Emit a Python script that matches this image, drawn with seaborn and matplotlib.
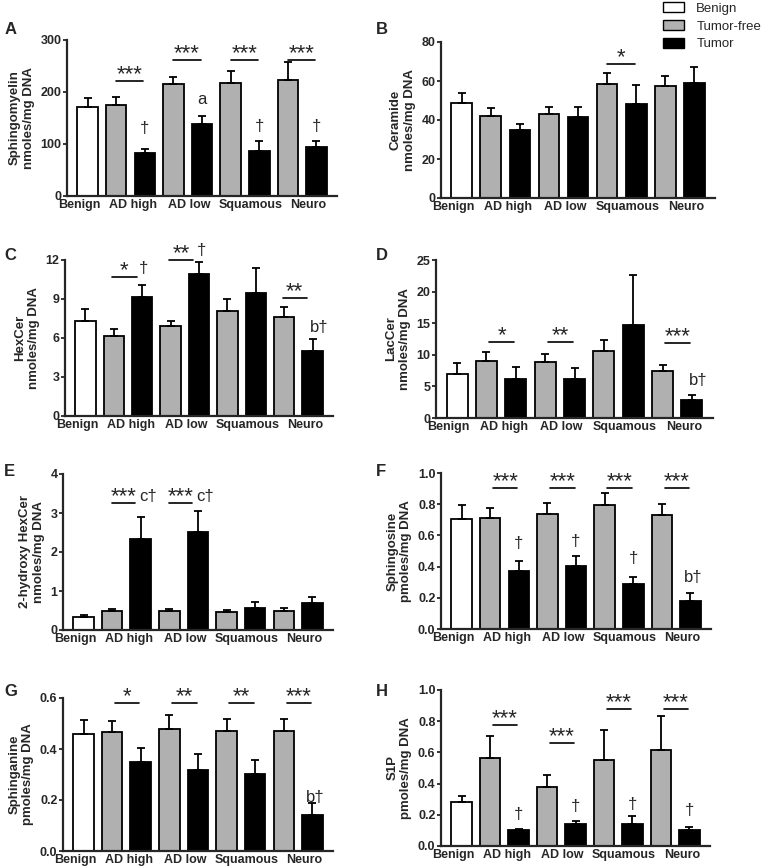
import numpy as np
import pandas as pd
import matplotlib
matplotlib.use("Agg")
import matplotlib.pyplot as plt
import seaborn as sns
from matplotlib.patches import Patch
from matplotlib.ticker import FormatStrFormatter

sns.set_theme(style="ticks")
plt.rcParams['font.family'] = ['Liberation Sans', 'DejaVu Sans']

# bar groups in plotting order
groups = ['Benign', 'Tumor-free', 'Tumor', 'Tumor-free', 'Tumor',
          'Tumor-free', 'Tumor', 'Tumor-free', 'Tumor']
categories = ['Benign', 'AD high', 'AD low', 'Squamous', 'Neuro']
colors = {'Benign': 'white', 'Tumor-free': '#b0b0b0', 'Tumor': 'black'}

# A - Sphingomyelin
sm_mean = [172, 175, 83, 215, 138, 218, 86, 223, 95]
sm_err = [16, 16, 8, 14, 16, 22, 19, 35, 10]
# B - Ceramide
cer_mean = [48.9, 42.0, 34.9, 43.2, 41.7, 58.3, 48.4, 57.3, 59.0]
cer_err = [4.8, 4.3, 3.2, 3.4, 5.0, 5.8, 9.4, 5.1, 8.4]
# C - HexCer
hex_mean = [7.33, 6.18, 9.14, 6.94, 10.9, 8.07, 9.45, 7.58, 5.03]
hex_err = [0.9, 0.55, 0.95, 0.4, 0.97, 0.9, 1.9, 0.8, 0.87]
# D - LacCer
lac_mean = [6.99, 9.0, 6.25, 8.8, 6.2, 10.6, 14.7, 7.36, 2.8]
lac_err = [1.75, 1.5, 1.8, 1.3, 1.75, 1.8, 8.0, 1.1, 0.85]
# E - 2-hydroxy HexCer
ohex_mean = [0.34, 0.48, 2.33, 0.50, 2.52, 0.45, 0.56, 0.48, 0.68]
ohex_err = [0.04, 0.07, 0.58, 0.04, 0.53, 0.07, 0.15, 0.09, 0.16]
# F - Sphingosine
so_mean = [0.705, 0.713, 0.373, 0.739, 0.405, 0.794, 0.289, 0.728, 0.178]
so_err = [0.087, 0.064, 0.06, 0.068, 0.062, 0.075, 0.047, 0.073, 0.055]
# G - Sphinganine
sa_mean = [0.459, 0.467, 0.348, 0.479, 0.318, 0.472, 0.301, 0.470, 0.141]
sa_err = [0.056, 0.044, 0.054, 0.053, 0.062, 0.045, 0.054, 0.048, 0.047]
# H - S1P
s1p_mean = [0.28, 0.563, 0.10, 0.377, 0.143, 0.55, 0.143, 0.617, 0.10]
s1p_err = [0.041, 0.139, 0.011, 0.075, 0.02, 0.195, 0.052, 0.218, 0.024]

# significance bars: (gray bar index, line y, label)
sm_sig = [(1, 221, '***'), (3, 261, '***'), (5, 261, '***'), (7, 261, '***')]
sm_marks = [(2, 130, '†'), (4, 185, 'a'), (6, 134, '†'), (8, 134, '†')]
cer_sig = [(5, 68.9, '*')]
cer_marks = []
hex_sig = [(1, 10.67, '*'), (3, 12.0, '**'), (7, 9.09, '**')]
hex_marks = [(2.05, 11.35, '†'), (4.1, 12.75, '†'), (8.25, 6.84, 'b†')]
lac_sig = [(1, 11.97, '*'), (3, 11.97, '**'), (7, 11.86, '***')]
lac_marks = [(8.2, 6.0, 'b†')]
ohex_sig = [(1, 3.26, '***'), (3, 3.26, '***')]
ohex_marks = [(2.25, 3.42, 'c†'), (4.25, 3.42, 'c†')]
so_sig = [(1, 0.904, '***'), (3, 0.904, '***'), (5, 0.904, '***'), (7, 0.904, '***')]
so_marks = [(2, 0.546, '†'), (4, 0.563, '†'), (6, 0.45, '†'), (8.1, 0.328, 'b†')]
sa_sig = [(1, 0.58, '*'), (3, 0.58, '**'), (5, 0.58, '**'), (7, 0.58, '***')]
sa_marks = [(8.1, 0.209, 'b†')]
s1p_sig = [(1, 0.777, '***'), (3, 0.66, '***'), (5, 0.876, '***'), (7, 0.876, '***')]
s1p_marks = [(2, 0.203, '†'), (4, 0.25, '†'), (6, 0.268, '†'), (8, 0.229, '†')]

panels = [
    dict(letter='A', ylabel='Sphingomyelin\nnmoles/mg DNA', mean=sm_mean, err=sm_err,
         ticks=[0, 100, 200, 300], fmt='%d', sig=sm_sig, marks=sm_marks,
         box=(67, 40, 337, 196), lpos=(5, 29), span=(0.0, 0.95)),
    dict(letter='B', ylabel='Ceramide\nnmoles/mg DNA', mean=cer_mean, err=cer_err,
         ticks=[0, 20, 40, 60, 80], fmt='%d', sig=cer_sig, marks=cer_marks,
         box=(441, 42, 715, 198), lpos=(376, 29), span=(0.0, 0.95)),
    dict(letter='C', ylabel='HexCer\nnmoles/mg DNA', mean=hex_mean, err=hex_err,
         ticks=[0, 3, 6, 9, 12], fmt='%d', sig=hex_sig, marks=hex_marks,
         box=(65, 260, 333, 416), lpos=(4, 256), span=(-0.05, 0.8)),
    dict(letter='D', ylabel='LacCer\nnmoles/mg DNA', mean=lac_mean, err=lac_err,
         ticks=[0, 5, 10, 15, 20, 25], fmt='%d', sig=lac_sig, marks=lac_marks,
         box=(436, 260, 713, 418), lpos=(376, 256), span=(0.1, 0.95)),
    dict(letter='E', ylabel='2-hydroxy HexCer\nnmoles/mg DNA', mean=ohex_mean, err=ohex_err,
         ticks=[0, 1, 2, 3, 4], fmt='%d', sig=ohex_sig, marks=ohex_marks,
         box=(63, 474, 333, 630), lpos=(4, 471), span=(0.0, 0.8)),
    dict(letter='F', ylabel='Sphingosine\npmoles/mg DNA', mean=so_mean, err=so_err,
         ticks=[0, 0.2, 0.4, 0.6, 0.8, 1.0], fmt='%.1f', sig=so_sig, marks=so_marks,
         box=(441, 473, 711, 629), lpos=(376, 471), span=(0.1, 0.95)),
    dict(letter='G', ylabel='Sphinganine\npmoles/mg DNA', mean=sa_mean, err=sa_err,
         ticks=[0, 0.2, 0.4, 0.6], fmt='%.1f', sig=sa_sig, marks=sa_marks,
         box=(63, 698, 333, 851), lpos=(4, 691), span=(0.1, 0.95)),
    dict(letter='H', ylabel='S1P\npmoles/mg DNA', mean=s1p_mean, err=s1p_err,
         ticks=[0, 0.2, 0.4, 0.6, 0.8, 1.0], fmt='%.1f', sig=s1p_sig, marks=s1p_marks,
         box=(441, 690, 710, 846), lpos=(376, 691), span=(0.1, 0.95)),
]

W, H = 766, 868
fig = plt.figure(figsize=(W / 100, H / 100), dpi=100)

for p in panels:
    x0, y0, x1, y1 = p['box']
    ax = fig.add_axes([x0 / W, 1 - y1 / H, (x1 - x0) / W, (y1 - y0) / H])
    df = pd.DataFrame({'pos': range(9), 'value': p['mean'], 'err': p['err'], 'group': groups})
    sns.barplot(data=df, x='pos', y='value', hue='group', palette=colors, dodge=False,
                width=0.72, edgecolor='black', linewidth=1.3, legend=False, ax=ax)
    ax.errorbar(df['pos'], df['value'], yerr=[np.zeros(9), df['err']], fmt='none',
                ecolor='black', elinewidth=1.3, capsize=3.2, capthick=1.3, zorder=1)
    ax.set_xlim(-0.72, 8.72)
    ax.set_ylim(0, p['ticks'][-1])
    ax.set_yticks(p['ticks'])
    ax.yaxis.set_major_formatter(FormatStrFormatter(p['fmt']))
    # GraphPad spreads the group labels a little wider than the bars
    ax.set_xticks([-0.3, 1.6, 3.55, 5.7, 7.73])
    ax.set_xticklabels(categories, fontsize=9, fontweight='bold')
    ax.tick_params(axis='x', length=0, pad=2)
    ax.tick_params(axis='y', length=3, width=1.3, pad=1, labelsize=9)
    for lab in ax.get_yticklabels():
        lab.set_fontweight('bold')
    ax.set_xlabel('')
    ax.set_ylabel(p['ylabel'], fontsize=9.5, fontweight='bold', labelpad=4, linespacing=1.2)
    sns.despine(ax=ax)
    ax.spines['left'].set_linewidth(1.6)
    ax.spines['bottom'].set_linewidth(1.6)

    a, b = p['span']
    for i, y, lab in p['sig']:
        ax.plot([i + a, i + b], [y, y], color='black', lw=1.2, clip_on=False)
        ax.annotate(lab, xy=(i + (a + b) / 2, y), xytext=(0, 0.5), textcoords='offset points',
                    ha='center', va='baseline', fontsize=16, annotation_clip=False)
    for xpos, y, lab in p['marks']:
        ax.text(xpos, y, lab, ha='center', va='center', fontsize=12, clip_on=False)

    fig.text(p['lpos'][0] / W, 1 - p['lpos'][1] / H, p['letter'], fontsize=12,
             fontweight='bold', ha='left', va='center')

handles = [Patch(facecolor=colors[g], edgecolor='black', linewidth=1.0) for g in colors]
fig.legend(handles, list(colors), loc='upper left', bbox_to_anchor=(658 / W, 1 + 3 / H),
           frameon=False, fontsize=9.5, handlelength=1.6, handleheight=0.8,
           labelspacing=0.38, handletextpad=0.9, borderaxespad=0)

fig.savefig('out.png', dpi=100, facecolor='white')
